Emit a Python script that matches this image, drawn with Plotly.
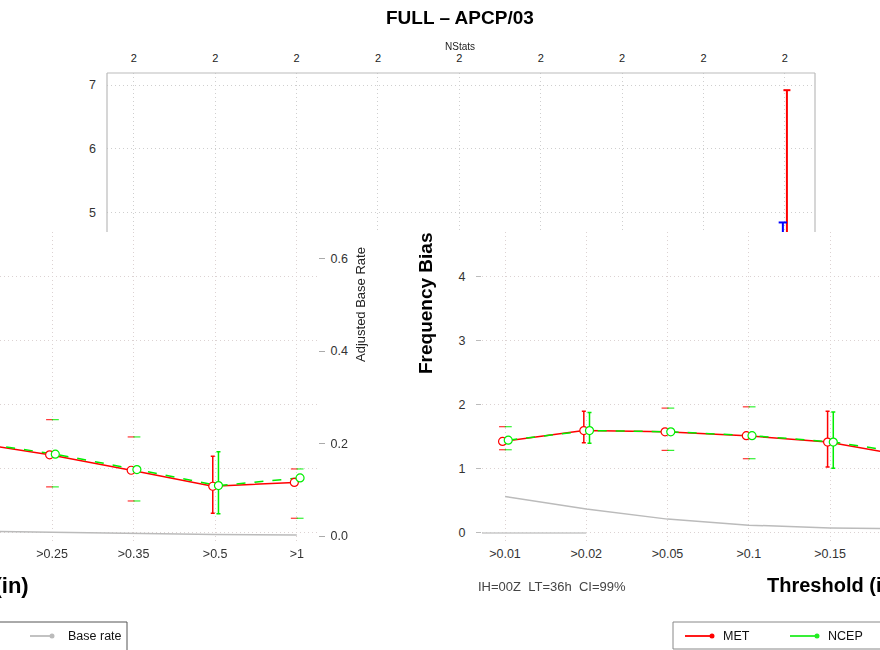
import plotly.graph_objects as go

W, H = 880, 650
FONT = "Liberation Sans"

# ---- data -------------------------------------------------------------
thresholds = [">0.01", ">0.02", ">0.05", ">0.1", ">0.15", ">0.25", ">0.35", ">0.5", ">1"]
nstats = [2, 2, 2, 2, 2, 2, 2, 2, 2]

met_fbias = [1.43, 1.60, 1.58, 1.52, 1.42, 1.22, 0.98, 0.73, 0.79]
ncep_fbias = [1.45, 1.60, 1.58, 1.52, 1.42, 1.23, 0.99, 0.74, 0.86]

met_lo = [1.30, 1.41, 1.29, 1.16, 1.03, 0.72, 0.50, 0.31, 0.23]
met_hi = [1.66, 1.90, 1.95, 1.97, 1.90, 1.77, 1.50, 1.20, 1.00]
ncep_lo = [1.30, 1.40, 1.29, 1.16, 1.01, 0.72, 0.50, 0.30, 0.23]
ncep_hi = [1.66, 1.88, 1.95, 1.97, 1.89, 1.77, 1.50, 1.27, 1.00]

# thresholds whose confidence whiskers are drawn in full (others show caps)
ci_full = [">0.02", ">0.15", ">0.5"]

base_rate = [0.079, 0.052, 0.030, 0.017, 0.011, 0.008, 0.005, 0.003, 0.002]

# upper panel: CI whiskers at the last threshold
top_met_range = [4.0, 6.92]
top_blue_range = [4.0, 4.84]

RED = "#FF0000"
GREEN = "#00EE00"
BLUE = "#0000FF"
GRAY = "#BBBBBB"
GRID = "#DCD2D2"
DOTS = "1px,3px"


def px_x(p):
    return p / W


def px_y(p):
    return 1 - p / H


idx = list(range(len(thresholds)))
off_met, off_ncep = -0.03, 0.04
x_met = [i + off_met for i in idx]
x_ncep = [i + off_ncep for i in idx]

fig = go.Figure()

# ---- upper panel (x, y / y2) ----------------------------------------------
fig.add_trace(go.Scatter(x=[8 + 0.025] * 2, y=top_met_range, mode="lines+markers",
                         line=dict(color=RED, width=2),
                         marker=dict(symbol="line-ew", size=5, line=dict(color=RED, width=2)),
                         xaxis="x", yaxis="y", showlegend=False, hoverinfo="skip"))
fig.add_trace(go.Scatter(x=[8 - 0.025] * 2, y=top_blue_range, mode="lines+markers",
                         line=dict(color=BLUE, width=2),
                         marker=dict(symbol="line-ew", size=6, line=dict(color=BLUE, width=2)),
                         xaxis="x", yaxis="y", showlegend=False, hoverinfo="skip"))


def lower_panel(xa, ya, yb):
    # base rate
    fig.add_trace(go.Scatter(x=idx, y=base_rate, mode="lines",
                             line=dict(color=GRAY, width=1.5),
                             xaxis=xa, yaxis=yb, showlegend=False, hoverinfo="skip"))
    # lines
    fig.add_trace(go.Scatter(x=x_met, y=met_fbias, mode="lines",
                             line=dict(color=RED, width=1.5),
                             xaxis=xa, yaxis=ya, showlegend=False, hoverinfo="skip"))
    fig.add_trace(go.Scatter(x=x_ncep, y=ncep_fbias, mode="lines",
                             line=dict(color=GREEN, width=1.5, dash="dash"),
                             xaxis=xa, yaxis=ya, showlegend=False, hoverinfo="skip"))
    # whiskers and caps
    for xs, v, lo, hi, col in ((x_met, met_fbias, met_lo, met_hi, RED),
                               (x_ncep, ncep_fbias, ncep_lo, ncep_hi, GREEN)):
        full = [i for i, t in enumerate(thresholds) if t in ci_full]
        caps = [i for i, t in enumerate(thresholds) if t not in ci_full]
        fig.add_trace(go.Scatter(
            x=[xs[i] for i in full], y=[v[i] for i in full], mode="markers",
            marker=dict(size=1, color="rgba(0,0,0,0)"),
            error_y=dict(type="data", symmetric=False,
                         array=[hi[i] - v[i] for i in full],
                         arrayminus=[v[i] - lo[i] for i in full],
                         color=col, thickness=1.5, width=2),
            xaxis=xa, yaxis=ya, showlegend=False, hoverinfo="skip"))
        fig.add_trace(go.Scatter(
            x=[xs[i] for i in caps] * 2,
            y=[lo[i] for i in caps] + [hi[i] for i in caps], mode="markers",
            marker=dict(symbol="line-ew", size=5, color=col, line=dict(color=col, width=1.2)),
            opacity=0.8, xaxis=xa, yaxis=ya, showlegend=False, hoverinfo="skip"))
    # point markers
    for xs, v, col in ((x_met, met_fbias, RED), (x_ncep, ncep_fbias, GREEN)):
        fig.add_trace(go.Scatter(x=xs, y=v, mode="markers",
                                 marker=dict(symbol="circle", size=8, color="white",
                                             line=dict(color=col, width=1.2)),
                                 xaxis=xa, yaxis=ya, showlegend=False, hoverinfo="skip"))


lower_panel("x2", "y3", "y4")
lower_panel("x3", "y5", "y6")

tickfont = dict(family=FONT, size=12.5, color="#333333")
low_dom = [px_y(541), px_y(232)]

fig.update_layout(
    width=W, height=H,
    margin=dict(l=0, r=0, t=0, b=0, autoexpand=False),
    paper_bgcolor="white", plot_bgcolor="rgba(0,0,0,0)",
    font=dict(family=FONT, color="#333333"),
    showlegend=False,
    # upper panel
    xaxis=dict(domain=[px_x(107), px_x(815)], range=[-0.33, 8.37], anchor="y", side="top",
               tickvals=idx, ticktext=[str(n) for n in nstats], ticks="",
               tickfont=dict(family=FONT, size=11, color="#222222"), ticklabelstandoff=8,
               showgrid=True, gridcolor="#CFCFCF", griddash=DOTS, gridwidth=1,
               zeroline=False, showline=False, fixedrange=True),
    yaxis=dict(domain=[px_y(232), px_y(73)], range=[4.69, 7.19], anchor="x",
               tickvals=[5, 6, 7], ticks="", tickfont=tickfont, ticklabelstandoff=10,
               showgrid=True, gridcolor="#CFCFCF", griddash=DOTS, zeroline=False,
               showline=False),
    yaxis2=dict(overlaying="y", anchor="x", side="right", range=[0.658, 1.0],
                tickvals=[0.8, 1.0], ticktext=["0.8", "1.0"], ticks="outside", ticklen=6,
                tickcolor="#AAAAAA", tickfont=tickfont, showgrid=False, zeroline=False,
                showline=False),
    # lower-left panel
    xaxis2=dict(domain=[0, px_x(318)], range=[4.362, 8.26], anchor="y3",
                tickvals=idx, ticktext=thresholds, ticks="", tickfont=tickfont,
                ticklabelstandoff=3,
                showgrid=True, gridcolor=GRID, griddash=DOTS, zeroline=False, showline=False),
    yaxis3=dict(domain=low_dom, range=[-0.125, 4.70], anchor="x2",
                tickvals=[0, 1, 2, 3, 4], showticklabels=False, ticks="",
                showgrid=True, gridcolor=GRID, griddash=DOTS, zeroline=False, showline=False),
    yaxis4=dict(overlaying="y3", anchor="x2", side="right", range=[-0.0108, 0.6573],
                tickvals=[0, 0.2, 0.4, 0.6], ticktext=["0.0", "0.2", "0.4", "0.6"],
                ticks="outside", ticklen=6, tickcolor="#AAAAAA", tickfont=tickfont,
                ticklabelstandoff=3, showgrid=False, zeroline=False, showline=False),
    # lower-right panel
    xaxis3=dict(domain=[px_x(482), 1], range=[-0.283, 4.615], anchor="y5",
                tickvals=idx, ticktext=thresholds, ticks="", tickfont=tickfont,
                ticklabelstandoff=3,
                showgrid=True, gridcolor=GRID, griddash=DOTS, zeroline=False, showline=False),
    yaxis5=dict(domain=low_dom, range=[-0.125, 4.70], anchor="x3",
                tickvals=[0, 1, 2, 3, 4], ticks="outside", ticklen=5, tickcolor="#BBBBBB",
                tickfont=tickfont, ticklabelstandoff=8,
                showgrid=True, gridcolor=GRID, griddash=DOTS, zeroline=False, showline=False),
    yaxis6=dict(overlaying="y5", anchor="x3", side="right", range=[-0.0173, 0.6508],
                visible=False, showgrid=False, zeroline=False),
)

# upper panel frame (left, top, right edges)
frame = dict(color="#BBBBBB", width=1.2)
fig.add_shape(type="line", xref="paper", yref="paper", x0=px_x(107), x1=px_x(815),
              y0=px_y(73), y1=px_y(73), line=frame)
fig.add_shape(type="line", xref="paper", yref="paper", x0=px_x(107), x1=px_x(107),
              y0=px_y(73), y1=px_y(232), line=frame)
fig.add_shape(type="line", xref="paper", yref="paper", x0=px_x(815), x1=px_x(815),
              y0=px_y(73), y1=px_y(232), line=frame)
# baseline stub on the right panel
fig.add_shape(type="line", xref="x3", yref="y5", x0=-0.33, x1=1, y0=0, y1=0,
              line=dict(color="#C8C8C8", width=1.5))


# ---- text -------------------------------------------------------------
def note(text, x, y, size=12, bold=False, angle=0, anchor="center", color="#333333"):
    fig.add_annotation(text=f"<b>{text}</b>" if bold else text,
                       xref="paper", yref="paper", x=px_x(x), y=px_y(y),
                       xanchor=anchor, yanchor="middle", showarrow=False, textangle=angle,
                       font=dict(family=FONT, size=size, color=color))


note("FULL \u2013 APCP/03", 460, 18, size=19, bold=True, color="#000000")
note("NStats", 460, 46, size=10, color="#222222")
note("Adjusted Base Rate", 360, 305, size=13, angle=-90, color="#222222")
note("Frequency Bias", 425, 303, size=19, bold=True, angle=-90, color="#000000")
note("Threshold (in)", 31, 585, size=22, bold=True, anchor="right", color="#000000")
note("Threshold (in)", 765, 585, size=20, bold=True, anchor="left", color="#000000")
note("IH=00Z\u00a0\u00a0LT=36h\u00a0\u00a0CI=99%", 552, 586, size=13, color="#444444")

# ---- legend boxes -----------------------------------------------------
fig.add_shape(type="rect", xref="paper", yref="paper", x0=px_x(-5), x1=px_x(127),
              y0=px_y(655), y1=px_y(622), line=dict(color="#555555", width=1))
fig.add_shape(type="rect", xref="paper", yref="paper", x0=px_x(673), x1=px_x(890),
              y0=px_y(649), y1=px_y(622), line=dict(color="#888888", width=1))


def legend_key(x0, x1, y, col):
    fig.add_shape(type="line", xref="paper", yref="paper", x0=px_x(x0), x1=px_x(x1),
                  y0=px_y(y), y1=px_y(y), line=dict(color=col, width=1.8))
    fig.add_shape(type="circle", xref="paper", yref="paper",
                  x0=px_x(x1 - 2.5), x1=px_x(x1 + 2.5), y0=px_y(y + 2.5), y1=px_y(y - 2.5),
                  fillcolor=col, line=dict(color=col, width=0))


legend_key(30, 52, 636, GRAY)
note("Base rate", 66, 636, size=12.5, anchor="left", color="#111111")
legend_key(685, 712, 636, RED)
note("MET", 721, 636, size=12.5, anchor="left", color="#111111")
legend_key(790, 817, 636, "#22EE22")
note("NCEP", 826, 636, size=12.5, anchor="left", color="#111111")

fig.write_html("out.html")
